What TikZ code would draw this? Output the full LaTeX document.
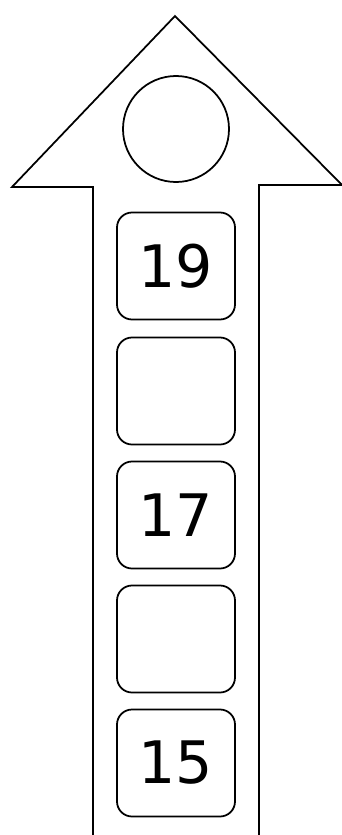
\documentclass[tikz,border=0pt]{standalone}
\usepackage{fontspec}
\newfontfamily\digitfont{DejaVu Sans}
\usepackage{tikz}
\tikzset{
numbox/.style={draw,line width=1.5pt,rounded corners=0.45cm,minimum width=3.54cm,minimum height=3.21cm,inner sep=0pt,font=\digitfont\fontsize{50}{50}\selectfont},
topcirc/.style={draw,line width=1.5pt,circle,minimum size=3.18cm,inner sep=0pt}
}
\newcommand{\stepnum}[3]{
\node[numbox] (#1) at (176,#2) {#3};
}

\begin{document}
\begin{tikzpicture}[x=0.03cm,y=-0.03cm]
\useasboundingbox (0,0) rectangle (342,835);
    \draw[line width=1.5pt] (93,835) -- (93,187) -- (12,187) -- (175,16) -- (342,185) -- (259,185) -- (259,835);
    \node[topcirc] (top) at (176,129) {};
   \stepnum{n19}{266}{19}
   \stepnum{n18}{391}{}
   \stepnum{n17}{515}{17}
   \stepnum{n16}{639}{}
   \stepnum{n15}{763}{15}
\end{tikzpicture}
\end{document}
